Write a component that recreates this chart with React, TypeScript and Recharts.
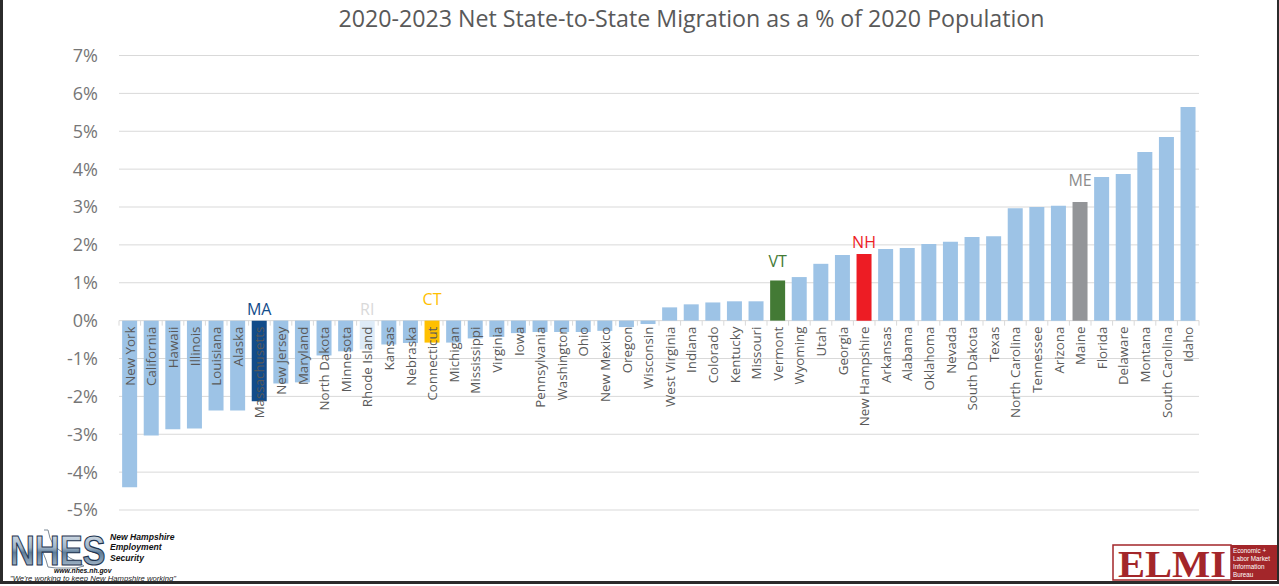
import React from 'react';
import { BarChart, Bar, XAxis, YAxis, CartesianGrid, Cell, LabelList } from 'recharts';

const states = [
  'New York', 'California', 'Hawaii', 'Illinois', 'Louisiana', 'Alaska', 'Massachusetts', 'New Jersey',
  'Maryland', 'North Dakota', 'Minnesota', 'Rhode Island', 'Kansas', 'Nebraska', 'Connecticut', 'Michigan',
  'Mississippi', 'Virginia', 'Iowa', 'Pennsylvania', 'Washington', 'Ohio', 'New Mexico', 'Oregon',
  'Wisconsin', 'West Virginia', 'Indiana', 'Colorado', 'Kentucky', 'Missouri', 'Vermont', 'Wyoming',
  'Utah', 'Georgia', 'New Hampshire', 'Arkansas', 'Alabama', 'Oklahoma', 'Nevada', 'South Dakota',
  'Texas', 'North Carolina', 'Tennessee', 'Arizona', 'Maine', 'Florida', 'Delaware', 'Montana',
  'South Carolina', 'Idaho',
];

const migrationPct = [
  -4.40, -3.03, -2.87, -2.85, -2.37, -2.37, -2.13, -1.66,
  -1.63, -0.92, -0.81, -0.76, -0.63, -0.59, -0.58, -0.58,
  -0.47, -0.43, -0.33, -0.30, -0.30, -0.30, -0.27, -0.17,
  -0.09, 0.35, 0.43, 0.48, 0.51, 0.51, 1.06, 1.15,
  1.50, 1.73, 1.76, 1.89, 1.92, 2.02, 2.08, 2.21,
  2.23, 2.97, 3.00, 3.03, 3.13, 3.79, 3.87, 4.45,
  4.85, 5.64,
];

const highlightStates = ['Massachusetts', 'Rhode Island', 'Connecticut', 'Vermont', 'New Hampshire', 'Maine'];
const highlightCodes = ['MA', 'RI', 'CT', 'VT', 'NH', 'ME'];

const yTicks = [-5, -4, -3, -2, -1, 0, 1, 2, 3, 4, 5, 6, 7];

const TITLE = '2020-2023 Net State-to-State Migration as a % of 2020 Population';

// ---- styling ----
const FONT = "'Open Sans', 'DejaVu Sans', sans-serif";
const BASE_COLOR = '#9DC3E6';
const barColors: Record<string, string> = {
  MA: '#124C8A',
  RI: '#DEEBF7',
  CT: '#FFC000',
  VT: '#437A35',
  NH: '#ED1C24',
  ME: '#939598',
};
const labelColors: Record<string, string> = {
  MA: '#124C8A',
  RI: '#D9D9D9',
  CT: '#FFC000',
  VT: '#437A35',
  NH: '#ED1C24',
  ME: '#8C8C8C',
};
const labelOffsets: Record<string, number> = { MA: 12, RI: 12, CT: 22, VT: 19, NH: 12, ME: 22 };

const W = 1279;
const H = 586;
const M_TOP = 55.5;
const M_RIGHT = 80;
const M_LEFT = 59;
const Y_AXIS_W = 60;
const X_AXIS_H = 30;
const M_BOTTOM = 46;
const PLOT_TOP = M_TOP;
const PLOT_BOTTOM = H - M_BOTTOM - X_AXIS_H;
const Y_MIN = -5;
const Y_MAX = 7;
const PLOT_LEFT = M_LEFT + Y_AXIS_W;
const PLOT_RIGHT = W - M_RIGHT;
const BAND = (PLOT_RIGHT - PLOT_LEFT) / states.length;

const zeroY = PLOT_TOP + ((Y_MAX - 0) / (Y_MAX - Y_MIN)) * (PLOT_BOTTOM - PLOT_TOP);

const data = states.map((s, i) => {
  const hi = highlightStates.indexOf(s);
  return { state: s, value: migrationPct[i], code: hi >= 0 ? highlightCodes[hi] : '' };
});

const CategoryTick = (props: any) => {
  const { x, payload, index } = props;
  const tx = x;
  const ty = zeroY + 6;
  return (
    <g>
      <line x1={tx - BAND / 2} x2={tx - BAND / 2} y1={zeroY} y2={zeroY + 5} stroke="#D9D9D9" strokeWidth={1} />
      {index === states.length - 1 && (
        <line x1={tx + BAND / 2} x2={tx + BAND / 2} y1={zeroY} y2={zeroY + 5} stroke="#D9D9D9" strokeWidth={1} />
      )}
      <text
        x={tx}
        y={ty}
        transform={`rotate(-90, ${tx}, ${ty})`}
        textAnchor="end"
        dominantBaseline="central"
        fontFamily={FONT}
        fontSize={13.3}
        fill="#595959"
      >
        {payload.value}
      </text>
    </g>
  );
};

const CodeLabel = (props: any) => {
  const { index } = props;
  const vb = props.viewBox || props;
  const code = data[index]?.code;
  if (!code) return null;
  const x = Number(vb.x);
  const w = Number(vb.width);
  const y = Number(vb.y);
  const h = Number(vb.height);
  const top = Math.min(y, y + h);
  const off = labelOffsets[code] ?? 12;
  return (
    <text
      x={x + w / 2}
      y={top - off}
      textAnchor="middle"
      dominantBaseline="central"
      fontFamily={FONT}
      fontSize={16}
      fill={labelColors[code]}
    >
      {code}
    </text>
  );
};

const NhesLogo = () => (
  <svg width={180} height={56} style={{ position: 'absolute', left: 4, top: 526 }}>
    <defs>
      <linearGradient id="steel" x1="0" y1="0" x2="0" y2="1">
        <stop offset="0%" stopColor="#eef2f6" />
        <stop offset="45%" stopColor="#9fb4c8" />
        <stop offset="55%" stopColor="#5f7d99" />
        <stop offset="100%" stopColor="#c9d5e1" />
      </linearGradient>
    </defs>
    <rect x={0} y={0} width={180} height={56} fill="#ffffff" />
    <polyline
      points="40,4 44,4 46,12 50,20 58,26 66,32 74,36 80,40 72,42 52,42 44,41 42,34 38,24 36,12"
      fill="none"
      stroke="#7d8a96"
      strokeWidth={1}
    />
    <text
      x={0}
      y={0}
      transform="translate(6,39) scale(0.8,1)"
      fontFamily="'Liberation Sans', Arial, sans-serif"
      fontWeight="bold"
      fontSize={43}
      fill="url(#steel)"
      stroke="#1f3550"
      strokeWidth={1.2}
    >
      NHES
    </text>
    <g fontFamily="'Liberation Sans', Arial, sans-serif" fontStyle="italic" fontWeight="bold" fill="#111">
      <text x={106} y={13.5} fontSize={8.6}>New Hampshire</text>
      <text x={106} y={24} fontSize={8.6}>Employment</text>
      <text x={106} y={34.5} fontSize={8.6}>Security</text>
      <text x={50} y={46.5} fontSize={6.8}>www.nhes.nh.gov</text>
    </g>
    <text x={6} y={54.5} fontFamily="'Liberation Sans', Arial, sans-serif" fontStyle="italic" fontSize={6.8} fill="#222" textLength={166} lengthAdjust="spacingAndGlyphs">
      "We're working to keep New Hampshire working"
    </text>
  </svg>
);

const ElmiLogo = () => (
  <svg width={165} height={48} style={{ position: 'absolute', left: 1112, top: 540 }}>
    <rect x={1} y={5} width={118} height={35} fill="#ffffff" stroke="#A3262A" strokeWidth={1.5} />
    <text
      x={6}
      y={36.5}
      fontFamily="'Liberation Serif', 'DejaVu Serif', serif"
      fontWeight="bold"
      fontSize={38}
      textLength={108}
      lengthAdjust="spacingAndGlyphs"
      fill="#A3262A"
    >
      ELMI
    </text>
    <rect x={119} y={5} width={46} height={35} fill="#A3262A" />
    <g fontFamily="'Liberation Sans', Arial, sans-serif" fontSize={6.3} fill="#ffffff">
      <text x={121} y={13}>Economic +</text>
      <text x={121} y={21}>Labor Market</text>
      <text x={121} y={29}>Information</text>
      <text x={121} y={37}>Bureau</text>
    </g>
  </svg>
);

export default function App() {
  return (
    <div style={{ position: 'absolute', left: 0, top: 0, width: W, height: H, background: '#ffffff', overflow: 'hidden' }}>
      <div
        style={{
          position: 'absolute',
          left: 0,
          top: 3,
          width: 1383,
          textAlign: 'center',
          fontFamily: FONT,
          fontSize: 23.2,
          color: '#595959',
          whiteSpace: 'nowrap',
          lineHeight: '30px',
        }}
      >
        {TITLE}
      </div>
      <BarChart
        width={W}
        height={H}
        data={data}
        margin={{ top: M_TOP, right: M_RIGHT, bottom: M_BOTTOM, left: M_LEFT }}
        barCategoryGap="14.5%"
        style={{ position: 'absolute', left: 0, top: 0 }}
      >
        <CartesianGrid horizontal vertical={false} stroke="#D9D9D9" strokeWidth={1} />
        <XAxis
          dataKey="state"
          interval={0}
          height={X_AXIS_H}
          axisLine={false}
          tickLine={false}
          tick={<CategoryTick />}
        />
        <YAxis
          width={Y_AXIS_W}
          domain={[Y_MIN, Y_MAX]}
          ticks={yTicks}
          interval={0}
          axisLine={false}
          tickLine={false}
          tickSize={0}
          tickMargin={21}
          tickFormatter={(v: number) => `${v}%`}
          tick={{ fill: '#767676', fontSize: 18, fontFamily: FONT }}
        />
        <Bar dataKey="value" isAnimationActive={false}>
          {data.map((d, i) => (
            <Cell key={i} fill={d.code ? barColors[d.code] : BASE_COLOR} />
          ))}
          <LabelList dataKey="code" content={<CodeLabel />} />
        </Bar>
      </BarChart>
      <NhesLogo />
      <ElmiLogo />
      <div style={{ position: 'absolute', left: 0, top: 0, width: 3, height: 584, background: '#2b2b2b' }} />
      <div style={{ position: 'absolute', left: 0, top: 581, width: W, height: 3, background: '#2b2b2b' }} />
      <div style={{ position: 'absolute', left: 1277, top: 0, width: 2, height: 584, background: '#2b2b2b' }} />
    </div>
  );
}
